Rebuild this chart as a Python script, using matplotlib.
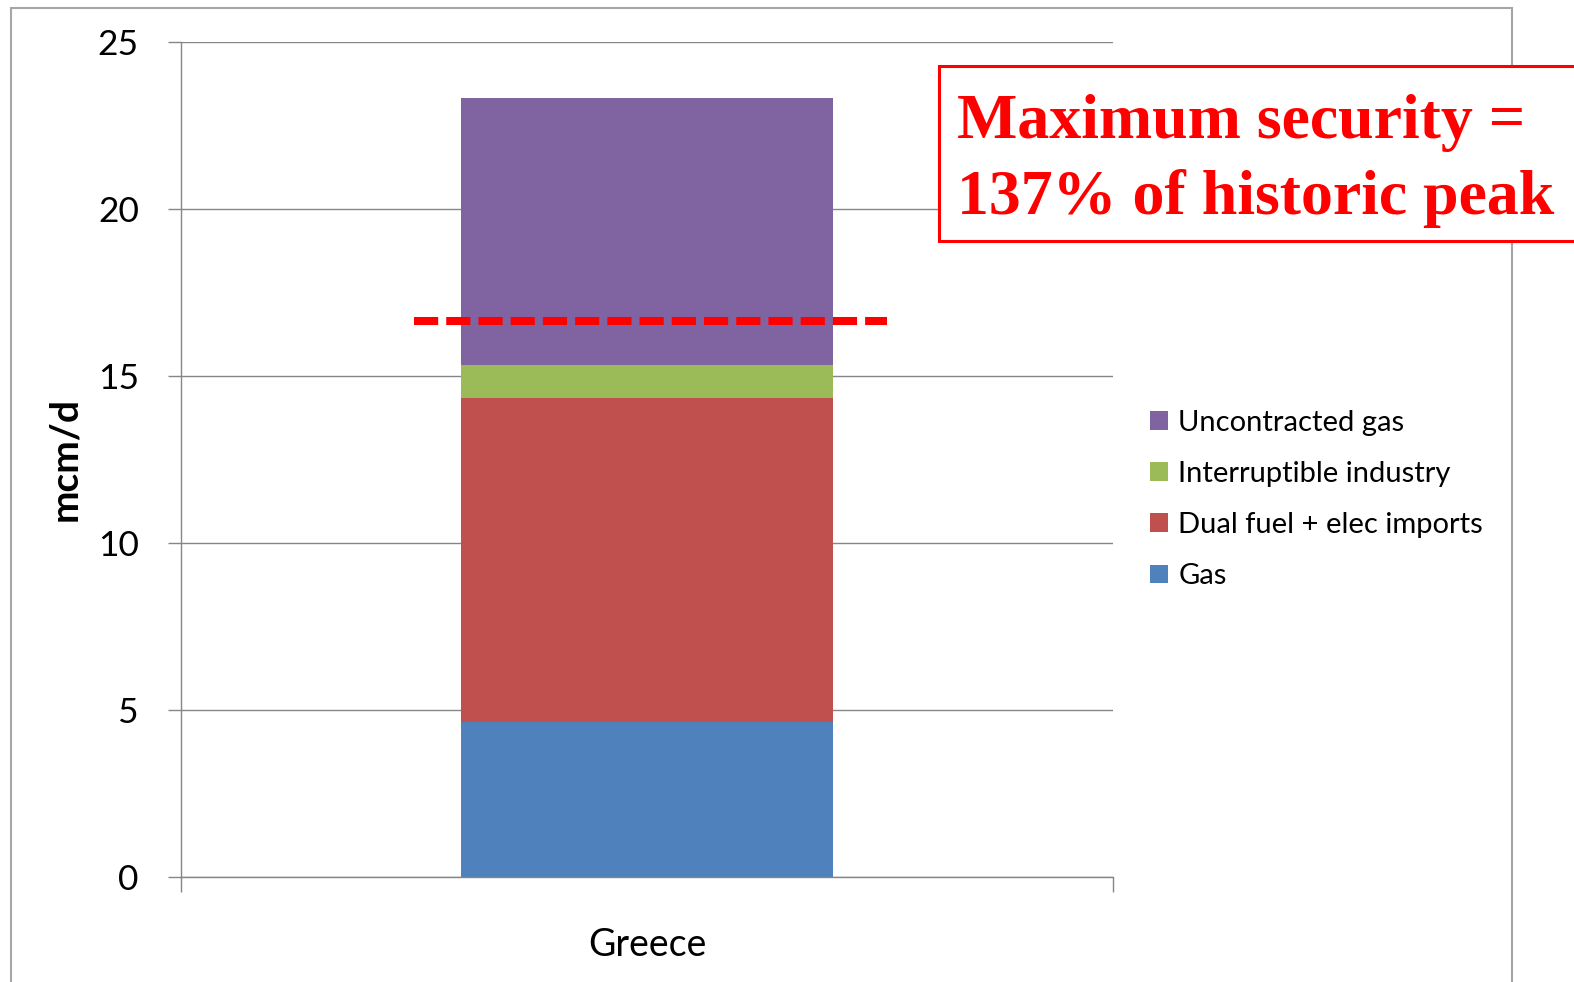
import matplotlib
matplotlib.use("Agg")
import matplotlib.pyplot as plt
from matplotlib.patches import Rectangle

# =========================
# DATA
# =========================

country = ["Greece"]

series_names = ["Gas", "Dual fuel + elec imports", "Interruptible industry", "Uncontracted gas"]
series_values = [4.63, 9.70, 1.00, 8.00]
series_colors = ["#4F81BD", "#C0504D", "#9BBB59", "#8064A2"]

historic_peak = 16.65

yticks = [0, 5, 10, 15, 20, 25]

note_lines = ["Maximum security =", "137% of historic peak"]

# =========================
# Figure layout (pixels)
# =========================

W, H = 1574, 982
plt.rcParams["font.family"] = ["Lato", "DejaVu Sans"]

fig = plt.figure(figsize=(W / 100, H / 100), dpi=100)
ax = fig.add_axes([181 / W, 1 - 877 / H, (1113 - 181) / W, (877 - 42) / H])

grid_col = "#868686"

# =========================
# Stacked bar
# =========================

bottom = 0
bars = []
for name, val, col in zip(series_names, series_values, series_colors):
    b = ax.bar(0, val, width=0.40, bottom=bottom, color=col, label=name, zorder=2)
    bars.append(b)
    bottom += val

# peak reference line
ax.plot([-0.25, 0.257], [historic_peak, historic_peak], color="#FF0000", lw=5.8,
        dashes=(3, 1), solid_capstyle="butt", dash_capstyle="butt", zorder=3)

# =========================
# Axes styling
# =========================

ax.set_xlim(-0.5, 0.5)
ax.set_ylim(0, 25)
ax.set_yticks(yticks)
ax.set_yticklabels([str(t) for t in yticks], fontsize=25.5)
ax.yaxis.grid(True, color=grid_col, lw=1.0)
ax.set_axisbelow(True)

ax.set_xticks([0])
ax.set_xticklabels(country, fontsize=27)
ax.set_xticks([-0.5, 0.5], minor=True)
ax.tick_params(axis="x", which="major", length=0, pad=36)
ax.tick_params(axis="x", which="minor", length=11, width=1.0, color=grid_col, direction="out")
ax.tick_params(axis="y", length=9.4, width=1.0, color=grid_col, direction="out", pad=21)

for s in ["top", "right"]:
    ax.spines[s].set_visible(False)
for s in ["left", "bottom"]:
    ax.spines[s].set_color(grid_col)
    ax.spines[s].set_linewidth(1.0)

fig.text(65 / W, 1 - 459 / H, "mcm/d", rotation=90, fontsize=28, fontweight="bold",
         ha="center", va="center")

# =========================
# Legend
# =========================

ax.legend(bars[::-1], series_names[::-1], loc="upper left",
          bbox_to_anchor=(1150 / W, 1 - 410 / H), bbox_transform=fig.transFigure,
          frameon=False, fontsize=21, handlelength=0.62, handleheight=0.62,
          handletextpad=0.35, labelspacing=0.86, borderpad=0, borderaxespad=0)

# =========================
# Outer frame and note box
# =========================

fig.patches.append(Rectangle((11 / W, -0.05), (1512 - 11) / W, 1.05 - 8 / H,
                             transform=fig.transFigure, fill=False,
                             edgecolor="#A6A6A6", lw=1.5, zorder=1))
fig.patches.append(Rectangle((939 / W, 1 - 241 / H), (1650 - 939) / W, (241 - 66) / H,
                             transform=fig.transFigure, facecolor="white",
                             edgecolor="#FF0000", lw=2.2, zorder=4))

for txt, base in zip(note_lines, [138, 214]):
    fig.text(957 / W, 1 - base / H, txt, fontsize=46, fontweight="bold", color="#FF0000",
             family=["Liberation Serif", "DejaVu Serif"], ha="left", va="baseline", zorder=5)

fig.savefig("out.png", dpi=100)
